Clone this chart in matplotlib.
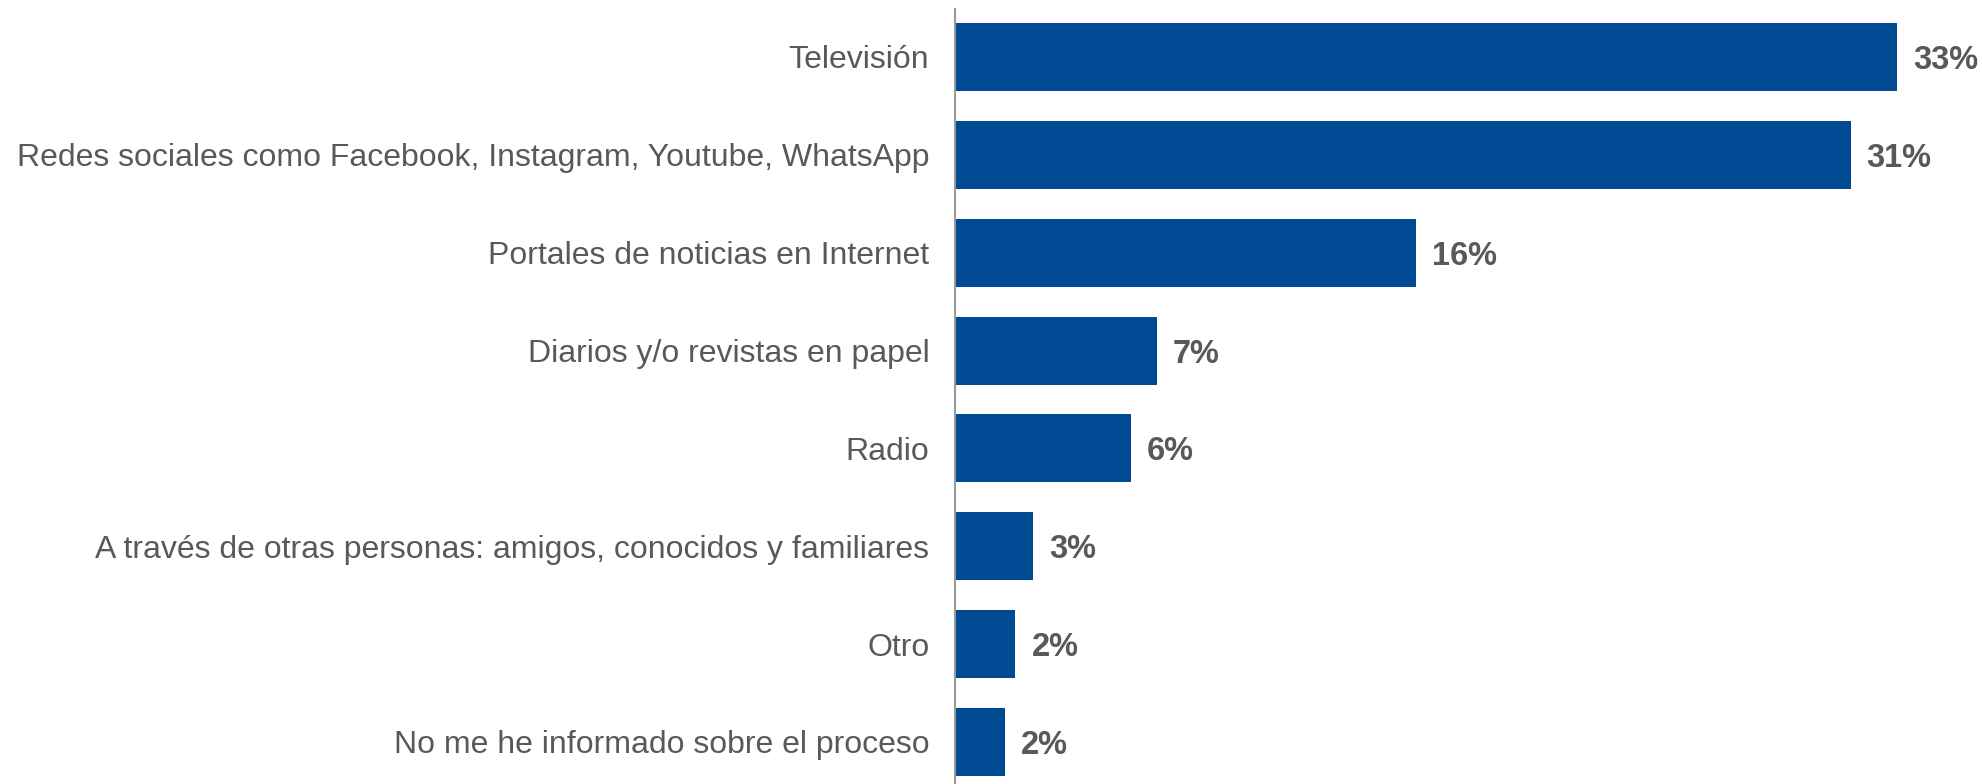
import matplotlib.pyplot as plt

# --- Data ---
categories = [
    "Televisión",
    "Redes sociales como Facebook, Instagram, Youtube, WhatsApp",
    "Portales de noticias en Internet",
    "Diarios y/o revistas en papel",
    "Radio",
    "A través de otras personas: amigos, conocidos y familiares",
    "Otro",
    "No me he informado sobre el proceso",
]
values = [32.7, 31.1, 16.0, 7.0, 6.1, 2.7, 2.1, 1.75]
value_labels = ["33%", "31%", "16%", "7%", "6%", "3%", "2%", "2%"]

bar_color = "#004A93"
text_color = "#595959"

plt.rcParams["font.family"] = ["Liberation Sans", "DejaVu Sans"]

W, H, dpi = 1982, 784, 100
fig = plt.figure(figsize=(W / dpi, H / dpi), dpi=dpi)
ax_left = 955 / W
ax = fig.add_axes([ax_left, 0, 1 - ax_left, (H - 9) / H])

pos = list(range(len(categories)))
ax.barh(pos, values, height=0.695, color=bar_color)

for y, v, lab in zip(pos, values, value_labels):
    ax.annotate(lab, (v, y), xytext=(11.5, 0), textcoords="offset points",
                ha="left", va="center_baseline", fontsize=23.5,
                fontweight="bold", color=text_color)

ax.set_xlim(0, (W - 955) / 28.8)
ax.set_ylim(7.43, -0.49)
ax.set_yticks(pos)
ax.set_yticklabels(categories, fontsize=23.0, color=text_color)
for t in ax.get_yticklabels():
    t.set_va("center_baseline")
ax.tick_params(axis="y", length=0, pad=18.5)
ax.set_xticks([])

for side in ["top", "right", "bottom"]:
    ax.spines[side].set_visible(False)
ax.spines["left"].set_color("#9a9a9a")
ax.spines["left"].set_linewidth(1.5)

fig.savefig("out.png", dpi=dpi)
